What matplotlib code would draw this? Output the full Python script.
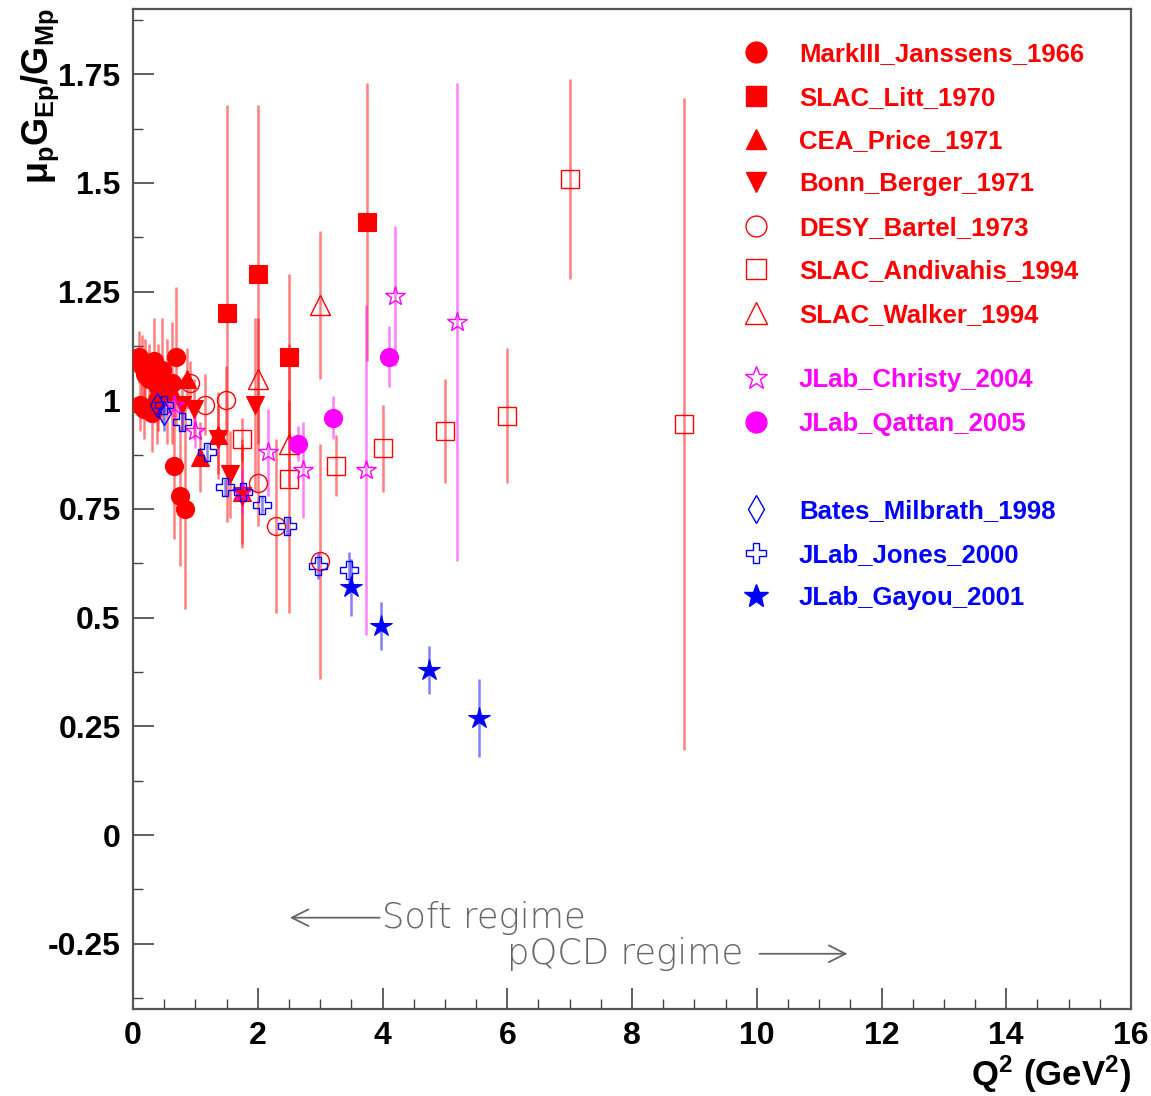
import matplotlib
matplotlib.use("Agg")
import matplotlib.pyplot as plt
from matplotlib.lines import Line2D
import numpy as np

plt.rcParams['font.family'] = ['Liberation Sans', 'DejaVu Sans']
plt.rcParams['mathtext.fontset'] = 'custom'
plt.rcParams['mathtext.rm'] = 'Liberation Sans:bold'
plt.rcParams['mathtext.it'] = 'Liberation Sans:bold'
plt.rcParams['mathtext.bf'] = 'Liberation Sans:bold'

# ---------------- data ----------------
m3_x = [0.10, 0.14, 0.20, 0.26, 0.33, 0.40, 0.47, 0.55, 0.62, 0.69, 0.12, 0.18, 0.30, 0.38, 0.66, 0.76, 0.84]
m3_y = [1.10, 1.08, 1.06, 1.05, 1.09, 1.03, 1.07, 1.02, 1.04, 1.10, 0.99, 0.98, 0.97, 1.00, 0.85, 0.78, 0.75]
m3_e = [0.06, 0.07, 0.08, 0.08, 0.10, 0.10, 0.12, 0.12, 0.14, 0.16, 0.06, 0.07, 0.09, 0.10, 0.17, 0.16, 0.23]

litt_x = [1.50, 2.00, 2.50, 3.75]
litt_y = [1.20, 1.29, 1.10, 1.41]
litt_e = [0.48, 0.39, 0.19, 0.32]

price_x = [0.60, 0.87, 1.07, 1.36, 1.75]
price_y = [1.03, 1.05, 0.87, 0.92, 0.79]
price_e = [0.06, 0.07, 0.08, 0.10, 0.12]

berger_x = [0.78, 0.97, 1.36, 1.56, 1.75, 1.96]
berger_y = [0.99, 0.98, 0.91, 0.83, 0.78, 0.99]
berger_e = [0.06, 0.07, 0.08, 0.10, 0.12, 0.20]

bartel_x = [0.91, 1.15, 1.49, 2.00, 2.30, 3.00]
bartel_y = [1.04, 0.99, 1.00, 0.81, 0.71, 0.63]
bartel_e = [0.05, 0.07, 0.08, 0.10, 0.20, 0.27]

andiv_x = [1.75, 2.50, 3.25, 4.00, 5.00, 6.00, 7.00, 8.83]
andiv_y = [0.91, 0.82, 0.85, 0.89, 0.93, 0.965, 1.51, 0.945]
andiv_e = [0.05, 0.31, 0.07, 0.10, 0.12, 0.155, 0.23, 0.75]

walker_x = [2.00, 2.50, 3.00]
walker_y = [1.05, 0.90, 1.22]
walker_e = [0.14, 0.10, 0.17]

christy_x = [0.65, 1.00, 1.75, 2.16, 2.72, 3.73, 4.20, 5.19]
christy_y = [0.99, 0.93, 0.79, 0.88, 0.84, 0.84, 1.24, 1.18]
christy_e = [0.03, 0.04, 0.05, 0.10, 0.11, 0.38, 0.16, 0.55]

qattan_x = [2.64, 3.20, 4.10]
qattan_y = [0.90, 0.96, 1.10]
qattan_e = [0.04, 0.05, 0.07]

milbrath_x = [0.38, 0.50]
milbrath_y = [0.99, 0.97]
milbrath_e = [0.03, 0.04]

jones_x = [0.49, 0.79, 1.18, 1.48, 1.77, 2.07, 2.47, 2.97, 3.47]
jones_y = [0.99, 0.95, 0.88, 0.80, 0.79, 0.76, 0.71, 0.62, 0.61]
jones_e = [0.02, 0.02, 0.02, 0.02, 0.02, 0.02, 0.02, 0.03, 0.04]

gayou_x = [3.50, 3.97, 4.75, 5.54]
gayou_y = [0.57, 0.48, 0.38, 0.27]
gayou_e = [0.065, 0.055, 0.055, 0.09]

x_ticks = [0, 2, 4, 6, 8, 10, 12, 14, 16]
y_ticks = [-0.25, 0, 0.25, 0.5, 0.75, 1, 1.25, 1.5, 1.75]
y_ticklabels = ['-0.25', '0', '0.25', '0.5', '0.75', '1', '1.25', '1.5', '1.75']

RED = '#ff0000'
MAG = '#ff00ff'
BLUE = '#0000ff'

# (label, x, y, err, marker, filled, color, size)
red_sets = [
    ('MarkIII_Janssens_1966', m3_x, m3_y, m3_e, 'o', True, RED, 13),
    ('SLAC_Litt_1970', litt_x, litt_y, litt_e, 's', True, RED, 13),
    ('CEA_Price_1971', price_x, price_y, price_e, '^', True, RED, 13),
    ('Bonn_Berger_1971', berger_x, berger_y, berger_e, 'v', True, RED, 13),
    ('DESY_Bartel_1973', bartel_x, bartel_y, bartel_e, 'o', False, RED, 13),
    ('SLAC_Andivahis_1994', andiv_x, andiv_y, andiv_e, 's', False, RED, 13),
    ('SLAC_Walker_1994', walker_x, walker_y, walker_e, '^', False, RED, 14),
]
mag_sets = [
    ('JLab_Christy_2004', christy_x, christy_y, christy_e, '*', False, MAG, 15),
    ('JLab_Qattan_2005', qattan_x, qattan_y, qattan_e, 'o', True, MAG, 13),
]
blue_sets = [
    ('Bates_Milbrath_1998', milbrath_x, milbrath_y, milbrath_e, 'd', False, BLUE, 12),
    ('JLab_Jones_2000', jones_x, jones_y, jones_e, 'P', False, BLUE, 13),
    ('JLab_Gayou_2001', gayou_x, gayou_y, gayou_e, '*', True, BLUE, 16),
]

fig = plt.figure(figsize=(11.51, 10.96), dpi=100)
ax = fig.add_axes([133/1151, 1 - 1009/1096, 998/1151, 1000/1096])

def draw(sets):
    handles = []
    for lab, x, y, e, mk, filled, col, ms in sets:
        ax.errorbar(x, y, yerr=e, fmt='none', ecolor=col, elinewidth=1.8,
                    alpha=0.5, capsize=0, zorder=2)
        mfc = col if filled else 'none'
        ax.plot(x, y, linestyle='none', marker=mk, markersize=ms,
                markerfacecolor=mfc, markeredgecolor=col,
                markeredgewidth=1.0 if not filled else 0.8, zorder=3)
        handles.append(Line2D([], [], linestyle='none', marker=mk,
                              markersize=ms + 2, markerfacecolor=mfc,
                              markeredgecolor=col, markeredgewidth=1.0,
                              label=lab))
    return handles

h_red = draw(red_sets)
h_mag = draw(mag_sets)
h_blue = draw(blue_sets)

ax.set_xlim(0, 16)
ax.set_ylim(-0.4, 1.9)
ax.set_xticks(x_ticks)
ax.set_xticklabels([str(v) for v in x_ticks])
ax.set_yticks(y_ticks)
ax.set_yticklabels(y_ticklabels)
ax.set_xticks(np.arange(0, 16.01, 0.5), minor=True)
ax.set_yticks(np.arange(-0.375, 1.9, 0.125), minor=True)
ax.tick_params(axis='both', which='major', direction='in', length=15, width=1.2,
               color='#444444', labelsize=23, top=False, right=False)
ax.tick_params(axis='both', which='minor', direction='in', length=7, width=1.0,
               color='#444444', top=False, right=False)
ax.tick_params(axis='x', which='major', pad=9)
ax.tick_params(axis='y', which='major', pad=9)
for lbl in ax.get_xticklabels() + ax.get_yticklabels():
    lbl.set_fontweight('bold')
for sp in ax.spines.values():
    sp.set_color('#555555')
    sp.set_linewidth(1.6)

# axis titles
fig.text(40/1151, 1 - 8/1096, r'$\mu_{p}G_{Ep}/G_{Mp}$', rotation=90,
         ha='center', va='top', fontsize=26)
fig.text(1131/1151, 1 - 1095/1096, r'$\mathrm{Q^{2}\ (GeV^{2})}$',
         ha='right', va='bottom', fontsize=25)

# legends
FS = 18.5
legkw = dict(frameon=False, loc='upper left', handletextpad=1.05,
             labelspacing=0.755, handlelength=1.2, borderaxespad=0,
             prop={'weight': 'bold', 'size': FS})
leg1 = ax.legend(handles=h_red, bbox_to_anchor=(0.599, 0.977), labelcolor=RED, **legkw)
ax.add_artist(leg1)
leg2 = ax.legend(handles=h_mag, bbox_to_anchor=(0.599, 0.651), labelcolor=MAG, **legkw)
ax.add_artist(leg2)
leg3 = ax.legend(handles=h_blue, bbox_to_anchor=(0.599, 0.520), labelcolor=BLUE, **legkw)

# regime annotations
txtc = '#666666'
ax.annotate('', xy=(2.47, -0.19), xytext=(4.0, -0.19),
            arrowprops=dict(arrowstyle='->', color=txtc, lw=1.3,
                            mutation_scale=30))
ax.text(4.0, -0.19, 'Soft regime', ha='left', va='center', fontsize=25.5,
        color=txtc, family='DejaVu Sans', fontweight='light')
ax.text(6.0, -0.273, 'pQCD regime', ha='left', va='center', fontsize=25.5,
        color=txtc, family='DejaVu Sans', fontweight='light')
ax.annotate('', xy=(11.5, -0.273), xytext=(10.0, -0.273),
            arrowprops=dict(arrowstyle='->', color=txtc, lw=1.3,
                            mutation_scale=30))

fig.savefig('out.png', dpi=100, facecolor='white')
